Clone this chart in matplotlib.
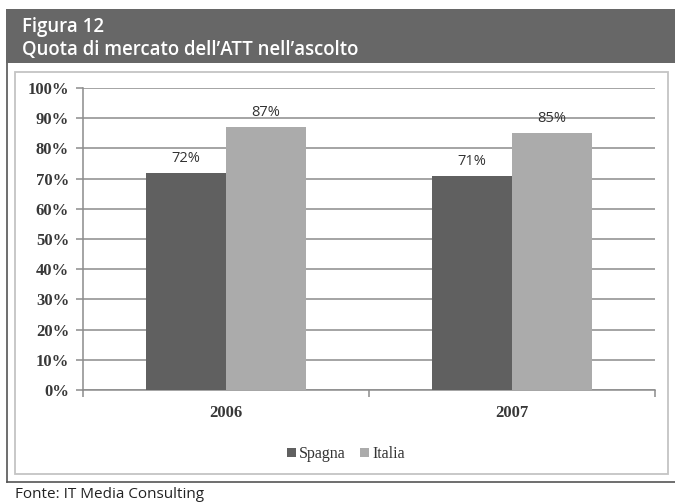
import matplotlib
matplotlib.use("Agg")
import matplotlib.pyplot as plt
from matplotlib.patches import Rectangle
from matplotlib.lines import Line2D
import numpy as np

W, H = 675, 504

years = ["2006", "2007"]
series_names = ["Spagna", "Italia"]
spagna = [72, 71]
italia = [87, 85]
yticks = list(range(0, 101, 10))
ytick_labels = [f"{v}%" for v in yticks]

title_line1 = "Figura 12"
title_line2 = "Quota di mercato dell\u2019ATT nell\u2019ascolto"
source = "Fonte: IT Media Consulting"

col_header = "#676767"
col_spagna = "#606060"
col_italia = "#ababab"
col_grid = "#8c8c8c"

fig = plt.figure(figsize=(W / 100, H / 100), dpi=100)
fig.patch.set_facecolor("white")


def fx(px):
    return px / W


def fy(py):
    return 1 - py / H


# header band
fig.patches.append(Rectangle((fx(6), fy(63)), fx(669), (63 - 9) / H,
                             transform=fig.transFigure, facecolor=col_header,
                             edgecolor="none", zorder=-2))
fig.text(fx(22), fy(27), title_line1, color="white", fontsize=13.4,
         family="Open Sans", fontweight="semibold", va="center", ha="left")
fig.text(fx(22), fy(50), title_line2, color="white", fontsize=13.4,
         family="Open Sans", fontweight="semibold", va="center", ha="left")

# outer frame lines
fig.lines.append(Line2D([fx(7), fx(7)], [fy(63), fy(482)], transform=fig.transFigure,
                        color="#555555", lw=1.2, zorder=-2))
fig.lines.append(Line2D([fx(7), fx(675)], [fy(482), fy(482)], transform=fig.transFigure,
                        color="#555555", lw=1.2, zorder=-2))

# chart box
fig.patches.append(Rectangle((fx(15), fy(474)), fx(653), (474 - 72) / H,
                             transform=fig.transFigure, facecolor="white",
                             edgecolor="#c4c4c4", lw=1.3, zorder=-1))

fig.text(fx(15), fy(494), source, color="#222222", fontsize=11,
         family="Open Sans", va="center", ha="left")

# plot area
ax = fig.add_axes([fx(83), fy(390), (655 - 83) / W, (390 - 88) / H])
ax.set_zorder(1)
ax.set_facecolor("none")
x = np.arange(len(years))
bw = 0.28
b1 = ax.bar(x - bw / 2, spagna, bw, color=col_spagna, zorder=3, label=series_names[0])
b2 = ax.bar(x + bw / 2, italia, bw, color=col_italia, zorder=3, label=series_names[1])

for bars, vals in ((b1, spagna), (b2, italia)):
    for r, v in zip(bars, vals):
        ax.annotate(f"{v}%", (r.get_x() + r.get_width() / 2, v),
                    xytext=(0, 5), textcoords="offset points", ha="center",
                    va="bottom", fontsize=10.5, family="Open Sans",
                    color="#333333", zorder=4)

ax.set_xlim(-0.5, len(years) - 0.5)
ax.set_ylim(0, 100)
ax.set_yticks(yticks)
ax.set_yticklabels(ytick_labels, family="Liberation Serif", fontweight="bold",
                   fontsize=12, color="#383838")
ax.yaxis.grid(True, color=col_grid, lw=1.1, zorder=0)
ax.tick_params(axis="y", length=5, width=1.1, color=col_grid, pad=5)

ax.set_xticks(np.arange(-0.5, len(years), 1.0))
ax.set_xticklabels([])
ax.set_xticks(x, minor=True)
ax.set_xticklabels(years, minor=True, family="Liberation Serif", fontweight="bold",
                   fontsize=12, color="#383838")
ax.tick_params(axis="x", which="major", length=5, width=1.1, color=col_grid)
ax.tick_params(axis="x", which="minor", length=0, pad=11)

for s in ("top", "right"):
    ax.spines[s].set_visible(False)
for s in ("left", "bottom"):
    ax.spines[s].set_color(col_grid)
    ax.spines[s].set_linewidth(1.1)

leg = fig.legend(handles=[b1, b2], labels=series_names, loc="center",
                 bbox_to_anchor=(fx(346), fy(454)), ncol=2, frameon=False,
                 prop={"family": "Liberation Serif", "size": 11.5},
                 handlelength=0.55, handleheight=0.55, handletextpad=0.2,
                 columnspacing=0.9)
for t in leg.get_texts():
    t.set_color("#333333")

fig.savefig("out.png", dpi=100)
